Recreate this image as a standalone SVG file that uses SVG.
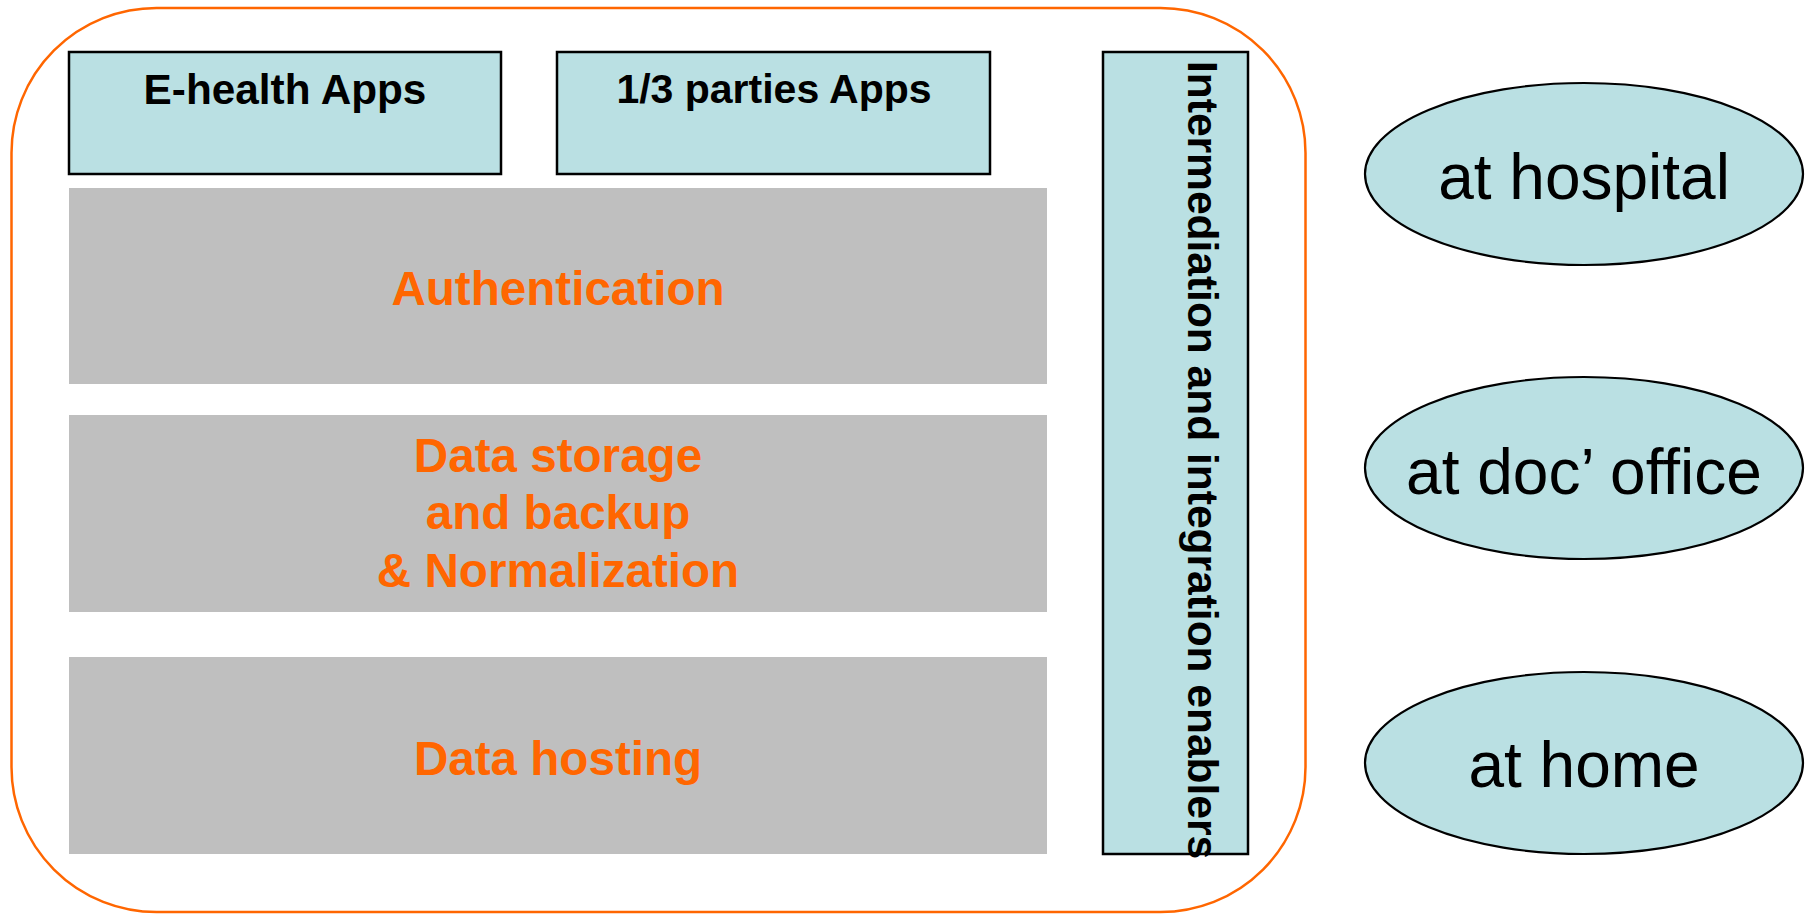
<svg xmlns="http://www.w3.org/2000/svg" width="1810" height="914" viewBox="0 0 1810 914">
  <style>
    .app { fill: #BAE0E3; stroke: #000; stroke-width: 2.5; }
    .layer { fill: #BFBFBF; stroke: none; }
    .loc { fill: #BAE0E3; stroke: #000; stroke-width: 2.2; }
    .bt { font-family: "Liberation Sans", Arial, sans-serif; font-weight: bold; fill: #000; }
    .ot { font-family: "Liberation Sans", Arial, sans-serif; font-weight: bold; fill: #FF6600; font-size: 47.6px; text-anchor: middle; }
    .lt { font-family: "Liberation Sans", Arial, sans-serif; fill: #000; font-size: 64px; text-anchor: middle; }
  </style>
  <rect width="1810" height="914" fill="#fff"/>
  <g id="platform">
    <rect x="11.5" y="8" width="1294" height="904" rx="145" ry="145" fill="none" stroke="#FF6600" stroke-width="2.5"/>
  </g>
  <g id="ehealth-apps">
    <rect class="app" x="69" y="52" width="432" height="122"/>
    <text class="bt" x="285" y="104" font-size="42.3" text-anchor="middle">E-health Apps</text>
  </g>
  <g id="third-party-apps">
    <rect class="app" x="557" y="52" width="433" height="122"/>
    <text class="bt" x="774" y="103" font-size="41" text-anchor="middle">1/3 parties Apps</text>
  </g>
  <g id="authentication">
    <rect class="layer" x="69" y="188" width="978" height="196"/>
    <text class="ot" x="558" y="305">Authentication</text>
  </g>
  <g id="data-storage">
    <rect class="layer" x="69" y="415" width="978" height="197"/>
    <text class="ot" x="558" y="472">Data storage</text>
    <text class="ot" x="558" y="529">and backup</text>
    <text class="ot" x="558" y="587">&amp; Normalization</text>
  </g>
  <g id="data-hosting">
    <rect class="layer" x="69" y="657" width="978" height="197"/>
    <text class="ot" x="558" y="775">Data hosting</text>
  </g>
  <g id="intermediation">
    <rect class="app" x="1103" y="52" width="145" height="802"/>
    <text class="bt" font-size="42.5" transform="translate(1188,61) rotate(90)" x="0" y="0">Intermediation and integration enablers</text>
  </g>
  <g id="at-hospital">
    <ellipse class="loc" cx="1584" cy="174" rx="219" ry="91"/>
    <text class="lt" x="1584" y="199">at hospital</text>
  </g>
  <g id="at-doc-office">
    <ellipse class="loc" cx="1584" cy="468" rx="219" ry="91"/>
    <text class="lt" x="1584" y="494">at doc’ office</text>
  </g>
  <g id="at-home">
    <ellipse class="loc" cx="1584" cy="763" rx="219" ry="91"/>
    <text class="lt" x="1584" y="787">at home</text>
  </g>
  <g id="connectors"></g>
</svg>
